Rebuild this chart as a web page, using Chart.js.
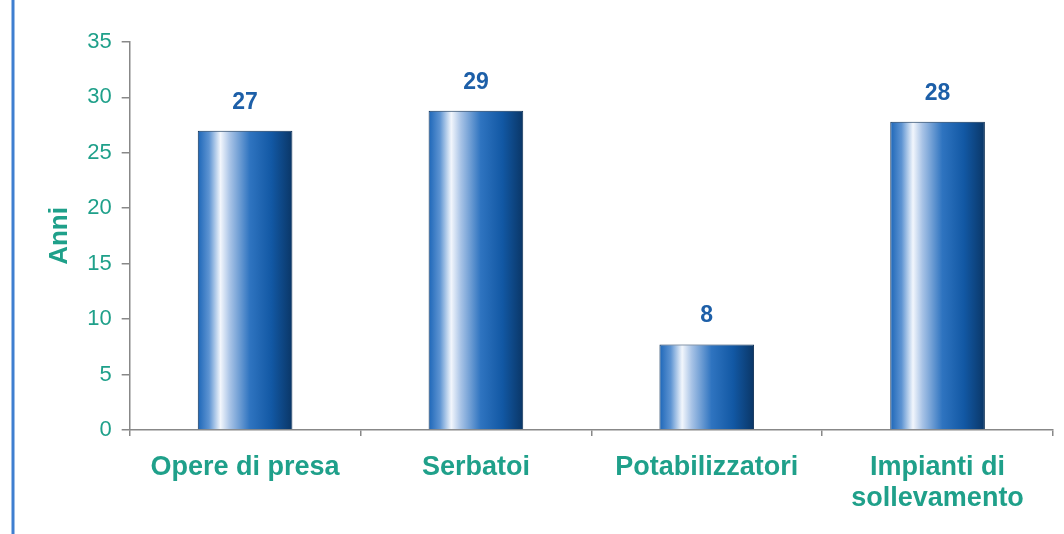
<!DOCTYPE html>
<html>
<head>
<meta charset="utf-8">
<script src="https://cdn.jsdelivr.net/npm/chart.js@4.4.1/dist/chart.umd.min.js"></script>
<style>
  html, body { margin: 0; padding: 0; background: #fff; }
  #wrap { width: 1064px; height: 534px; }
</style>
</head>
<body>
<div id="wrap"><canvas id="myChart" width="1064" height="534"></canvas></div>
<script>
// Data
const categories = ["Opere di presa", "Serbatoi", "Potabilizzatori", ["Impianti di", "sollevamento"]];
const anni = [27, 28.8, 7.7, 27.8];
const yTicks = [0, 5, 10, 15, 20, 25, 30, 35];

const teal = '#1fa08a';
const labelBlue = '#1d5fa8';
const barPct = 0.41;
const fam = '"Liberation Sans", Arial, sans-serif';

// horizontal "cylinder" gradient for each bar
function barGradient(context) {
    const chart = context.chart;
    const xs = chart.scales.x;
    if (!xs || !chart.chartArea) return '#1a64b4';
    const cx = xs.getPixelForValue(context.dataIndex);
    const half = (xs.width / categories.length) * barPct / 2;
    if (!isFinite(cx) || !isFinite(half) || half <= 0) return '#1a64b4';
    const g = chart.ctx.createLinearGradient(cx - half, 0, cx + half, 0);
    g.addColorStop(0, '#1c66b8');
    g.addColorStop(0.12, '#5e94d2');
    g.addColorStop(0.24, '#f2f6fc');
    g.addColorStop(0.34, '#a8c3e6');
    g.addColorStop(0.55, '#2f74c0');
    g.addColorStop(0.78, '#1258a4');
    g.addColorStop(1, '#0a3666');
    return g;
}

// value labels above the bars + blue line on the left
const extras = {
    id: 'extras',
    beforeDraw(chart) {
        const c = chart.ctx;
        c.save();
        c.strokeStyle = '#3f7fd0';
        c.lineWidth = 3;
        c.beginPath();
        c.moveTo(13, 0);
        c.lineTo(13, 534);
        c.stroke();
        c.restore();
    },
    afterDatasetsDraw(chart) {
        const c = chart.ctx;
        c.save();
        c.font = 'bold 23px ' + fam;
        c.fillStyle = labelBlue;
        c.textAlign = 'center';
        c.textBaseline = 'bottom';
        chart.getDatasetMeta(0).data.forEach((bar, i) => {
            c.fillText(Math.round(anni[i]), bar.x, bar.y - 17);
        });
        c.restore();
    }
};

const ctx = document.getElementById('myChart').getContext('2d');
const myChart = new Chart(ctx, {
    type: 'bar',
    data: {
        labels: categories,
        datasets: [{
            data: anni,
            backgroundColor: barGradient,
            borderColor: '#0d2f55',
            borderWidth: 1,
            barPercentage: barPct,
            categoryPercentage: 1
        }]
    },
    options: {
        responsive: false,
        animation: false,
        layout: { padding: { top: 42, right: 11, left: 44, bottom: 4 } },
        plugins: { legend: { display: false }, tooltip: { enabled: false } },
        scales: {
            x: {
                border: { color: '#888', width: 1.5 },
                grid: { drawOnChartArea: false, tickLength: 6, color: '#888', lineWidth: 1.5 },
                ticks: {
                    color: teal,
                    font: { family: fam, size: 27, weight: 'bold', lineHeight: 1.15 },
                    padding: 16,
                    maxRotation: 0
                }
            },
            y: {
                min: 0,
                max: 35,
                afterBuildTicks: axis => { axis.ticks = yTicks.map(v => ({ value: v })); },
                border: { color: '#888', width: 1.5 },
                grid: { drawOnChartArea: false, tickLength: 8, color: '#888', lineWidth: 1.5 },
                title: {
                    display: true,
                    text: 'Anni',
                    color: teal,
                    font: { family: fam, size: 26, weight: 'bold' },
                    padding: { top: 0, bottom: 2 }
                },
                ticks: {
                    color: teal,
                    font: { family: fam, size: 22 },
                    padding: 10
                }
            }
        }
    },
    plugins: [extras]
});
</script>
</body>
</html>
